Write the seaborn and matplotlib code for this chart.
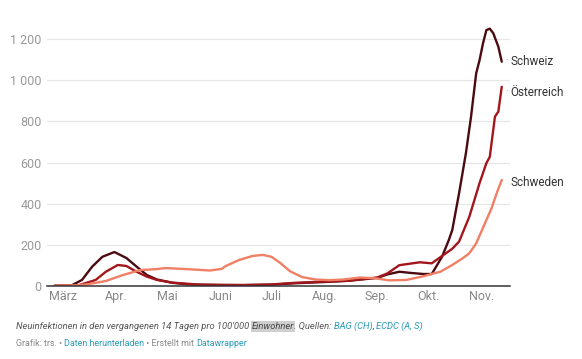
import matplotlib
matplotlib.use("Agg")
import matplotlib.pyplot as plt
import numpy as np
import pandas as pd
import seaborn as sns

# ---- data (14-day incidence per 100'000) ----
ch_dates = ["2020-02-25", "2020-03-06", "2020-03-12", "2020-03-18", "2020-03-24", "2020-03-31",
            "2020-04-07", "2020-04-13", "2020-04-19", "2020-04-25", "2020-05-04", "2020-05-14",
            "2020-06-01", "2020-06-15", "2020-07-01", "2020-07-15", "2020-08-01", "2020-08-15",
            "2020-09-01", "2020-09-07", "2020-09-14", "2020-09-21", "2020-09-28", "2020-10-03",
            "2020-10-05", "2020-10-09", "2020-10-13", "2020-10-15", "2020-10-19", "2020-10-22",
            "2020-10-23", "2020-10-26", "2020-10-29", "2020-10-31", "2020-11-02", "2020-11-04",
            "2020-11-06", "2020-11-08", "2020-11-11", "2020-11-13"]
ch_values = [0, 2, 28, 93, 141, 164,
             135, 93, 52, 30, 14, 6,
             3, 3, 5, 12, 18, 24,
             38, 55, 68, 62, 57, 57,
             85, 141, 223, 271, 451, 597,
             646, 823, 1034, 1099, 1180, 1245,
             1252, 1230, 1164, 1091]

at_dates = ["2020-02-25", "2020-03-10", "2020-03-20", "2020-03-26", "2020-04-02", "2020-04-07",
            "2020-04-13", "2020-04-19", "2020-04-25", "2020-05-04", "2020-05-20", "2020-06-15",
            "2020-07-01", "2020-07-15", "2020-08-01", "2020-08-15", "2020-09-01", "2020-09-07",
            "2020-09-14", "2020-09-26", "2020-10-03", "2020-10-07", "2020-10-15", "2020-10-19",
            "2020-10-25", "2020-10-31", "2020-11-04", "2020-11-06", "2020-11-09", "2020-11-11",
            "2020-11-13"]
at_values = [0, 2, 28, 68, 101, 96,
             68, 44, 28, 15, 5, 3,
             6, 14, 20, 24, 40, 60,
             100, 114, 109, 133, 180, 215,
             336, 500, 597, 628, 823, 848,
             969]

se_dates = ["2020-02-25", "2020-03-10", "2020-03-16", "2020-03-26", "2020-04-05", "2020-04-15",
            "2020-04-25", "2020-04-30", "2020-05-14", "2020-05-26", "2020-06-02", "2020-06-04",
            "2020-06-12", "2020-06-20", "2020-06-26", "2020-07-01", "2020-07-06", "2020-07-12",
            "2020-07-19", "2020-07-27", "2020-08-04", "2020-08-12", "2020-08-22", "2020-08-31",
            "2020-09-08", "2020-09-18", "2020-09-27", "2020-10-08", "2020-10-15", "2020-10-21",
            "2020-10-25", "2020-10-29", "2020-11-01", "2020-11-04", "2020-11-07", "2020-11-10",
            "2020-11-13"]
se_values = [0, 2, 8, 23, 52, 76,
             81, 86, 80, 74, 82, 95,
             125, 145, 150, 141, 112, 70,
             42, 30, 27, 30, 40, 36,
             26, 28, 44, 68, 101, 133,
             158, 206, 263, 320, 377, 450,
             515]

countries = ["Schweiz", "Österreich", "Schweden"]
month_ticks = ["2020-03-01", "2020-04-01", "2020-05-01", "2020-06-01", "2020-07-01",
               "2020-08-01", "2020-09-01", "2020-10-01", "2020-11-01"]
month_labels = ["März", "Apr.", "Mai", "Juni", "Juli", "Aug.", "Sep.", "Okt.", "Nov."]
y_ticks = [0, 200, 400, 600, 800, 1000, 1200]
y_labels = ["0", "200", "400", "600", "800", "1 000", "1 200"]

df = pd.concat([
    pd.DataFrame({"Datum": pd.to_datetime(ch_dates), "Wert": ch_values, "Land": "Schweiz"}),
    pd.DataFrame({"Datum": pd.to_datetime(at_dates), "Wert": at_values, "Land": "Österreich"}),
    pd.DataFrame({"Datum": pd.to_datetime(se_dates), "Wert": se_values, "Land": "Schweden"}),
], ignore_index=True)

palette = {"Schweiz": "#4a0a10", "Österreich": "#a3161c", "Schweden": "#f07f66"}

sns.set_style("white")
plt.rcParams["font.family"] = ["Roboto", "DejaVu Sans"]

fig = plt.figure(figsize=(5.82, 3.59), dpi=100)
ax = fig.add_axes([47 / 582, 1 - 285.7 / 359, (510 - 47) / 582, (285.7 - 22.9) / 359])

sns.lineplot(data=df, x="Datum", y="Wert", hue="Land", hue_order=countries,
             palette=palette, linewidth=1.7, legend=False, ax=ax, zorder=3)

ax.set_xlim(pd.Timestamp("2020-02-20 12:00"), pd.Timestamp("2020-11-17 20:00"))
ax.set_ylim(0, 1280)
ax.set_xlabel("")
ax.set_ylabel("")

ax.set_yticks(y_ticks)
ax.set_yticklabels(y_labels)
ax.set_xticks(pd.to_datetime(month_ticks))
ax.set_xticklabels(month_labels)
ax.tick_params(axis="y", length=0, pad=4, labelsize=9, labelcolor="#999999")
ax.tick_params(axis="x", length=0, pad=3, labelsize=9, labelcolor="#888888")

for s in ["top", "right", "left"]:
    ax.spines[s].set_visible(False)
ax.spines["bottom"].set_color("#333333")
ax.spines["bottom"].set_linewidth(1.1)
ax.spines["bottom"].set_zorder(4)

for v in y_ticks[1:]:
    ax.axhline(v, color="#e6e6e6", linewidth=0.9, zorder=1)

# end labels
ends = {
    "Schweiz": (ch_dates[-1], ch_values[-1], 0),
    "Österreich": (at_dates[-1], at_values[-1], -4),
    "Schweden": (se_dates[-1], se_values[-1], -2),
}
for name, (d, v, dy) in ends.items():
    ax.annotate(name, xy=(pd.Timestamp(d), v), xytext=(6, dy), textcoords="offset points",
                ha="left", va="center", fontsize=8.5, color="#333333", annotation_clip=False)
    if name != "Schweden":
        ax.annotate("·", xy=(pd.Timestamp(d), v), xytext=(2.5, dy + 1), textcoords="offset points",
                    ha="left", va="center", fontsize=7, color="#888888", annotation_clip=False)

# footer with mixed colours
fig.canvas.draw()
renderer = fig.canvas.get_renderer()


def write_segments(segments, x0, y, size, style="normal"):
    x = x0
    for txt, color, bg in segments:
        kw = {}
        if bg:
            kw["bbox"] = dict(facecolor=bg, edgecolor="none", pad=0.6)
        t = fig.text(x, y, txt, fontsize=size, color=color, style=style,
                     ha="left", va="center", **kw)
        bb = t.get_window_extent(renderer=renderer)
        x = x + bb.width / fig.bbox.width


teal = "#2a9bb5"
write_segments([
    ("Neuinfektionen in den vergangenen 14 Tagen pro 100'000 ", "#555555", None),
    ("Einwohner", "#444444", "#cfcfcf"),
    (". Quellen: ", "#555555", None),
    ("BAG (CH)", teal, None),
    (", ", "#555555", None),
    ("ECDC (A, S)", teal, None),
], 16 / 582, 1 - 326.5 / 359, 6.75, style="italic")

write_segments([
    ("Grafik: trs. • ", "#888888", None),
    ("Daten herunterladen", teal, None),
    (" • Erstellt mit ", "#888888", None),
    ("Datawrapper", teal, None),
], 16 / 582, 1 - 343.5 / 359, 6.4)

fig.savefig("out.png", dpi=100, facecolor="white")
